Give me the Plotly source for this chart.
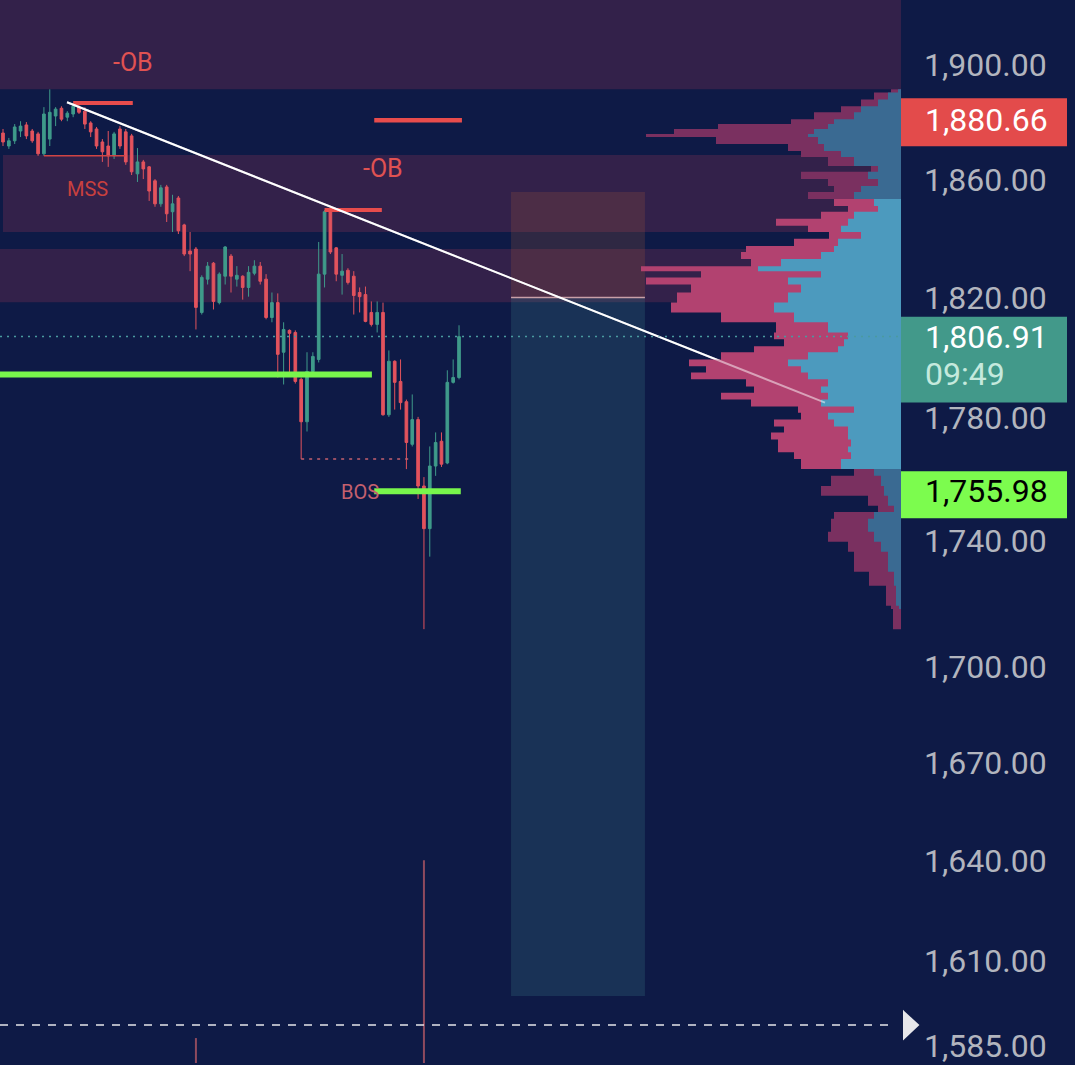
import math
import plotly.graph_objects as go

# ---------------- candles (price values) ----------------
opens = [1876.2, 1871.7, 1873.5, 1876.9, 1879.0, 1876.9, 1875.9, 1869.0, 1874.1, 1882.1,
         1884.8, 1881.7, 1882.8, 1885.2, 1883.8, 1879.7, 1877.6, 1873.1, 1871.7, 1868.3,
         1877.6, 1876.6, 1875.2, 1862.1, 1866.2, 1864.5, 1859.7, 1851.8, 1857.6, 1849.1,
         1853.8, 1844.6, 1835.7, 1836.4, 1815.0, 1826.2, 1831.6, 1818.3, 1827.2, 1834.0,
         1826.2, 1827.2, 1823.4, 1828.2, 1830.6, 1826.2, 1813.3, 1818.3, 1801.7, 1809.0,
         1808.3, 1792.7, 1778.7, 1795.3, 1799.3, 1827.9, 1849.1, 1836.8, 1827.5, 1829.2,
         1827.2, 1821.7, 1821.0, 1815.0, 1811.0, 1815.0, 1781.0, 1798.7, 1792.0, 1785.3,
         1771.3, 1779.4, 1757.7, 1743.9, 1764.2, 1772.3, 1765.2, 1791.7, 1793.3]
highs = [1877.6, 1874.5, 1879.3, 1880.3, 1880.0, 1877.6, 1876.6, 1885.2, 1891.4, 1885.2,
         1885.5, 1883.8, 1886.6, 1885.9, 1885.2, 1880.3, 1878.3, 1874.1, 1876.9, 1876.6,
         1878.6, 1877.6, 1875.9, 1871.0, 1866.9, 1864.8, 1860.3, 1858.3, 1858.3, 1854.9,
         1854.5, 1845.0, 1842.2, 1837.1, 1827.5, 1832.0, 1832.0, 1828.5, 1837.4, 1834.7,
         1830.6, 1827.5, 1830.6, 1832.6, 1832.0, 1827.9, 1821.7, 1821.4, 1811.7, 1809.3,
         1809.0, 1793.3, 1801.7, 1801.7, 1838.8, 1849.7, 1849.7, 1837.1, 1834.7, 1829.9,
         1828.9, 1823.4, 1823.7, 1818.7, 1818.7, 1818.3, 1802.3, 1799.0, 1799.3, 1786.0,
         1787.7, 1780.3, 1760.6, 1770.6, 1775.2, 1775.2, 1795.7, 1799.3, 1810.7]
lows = [1871.7, 1870.7, 1872.4, 1874.8, 1874.1, 1872.8, 1868.3, 1868.3, 1871.7, 1878.6,
        1880.3, 1880.3, 1881.7, 1882.8, 1877.6, 1874.8, 1870.7, 1866.2, 1864.5, 1867.2,
        1870.7, 1865.2, 1861.7, 1859.3, 1860.3, 1852.8, 1850.8, 1850.8, 1845.6, 1842.2,
        1841.5, 1834.0, 1828.9, 1809.3, 1814.3, 1824.4, 1816.0, 1817.7, 1824.4, 1821.7,
        1823.7, 1819.3, 1820.3, 1827.5, 1824.4, 1812.7, 1811.7, 1793.3, 1791.0, 1795.0,
        1791.3, 1766.5, 1775.5, 1795.0, 1798.3, 1823.4, 1834.7, 1825.5, 1821.0, 1824.4,
        1814.3, 1815.0, 1811.7, 1810.3, 1808.3, 1780.7, 1780.3, 1782.7, 1782.7, 1763.2,
        1770.6, 1753.5, 1711.8, 1734.9, 1761.0, 1763.9, 1764.8, 1791.3, 1792.7]
closes = [1873.1, 1873.5, 1878.3, 1878.6, 1875.2, 1873.5, 1869.0, 1882.8, 1883.4, 1884.5,
          1881.0, 1883.1, 1885.5, 1883.4, 1879.3, 1876.6, 1871.7, 1869.7, 1868.3, 1875.9,
          1871.7, 1866.2, 1862.8, 1866.2, 1863.8, 1856.2, 1851.8, 1857.3, 1848.4, 1851.8,
          1842.6, 1834.7, 1834.7, 1816.7, 1826.8, 1830.6, 1818.7, 1827.9, 1837.1, 1827.2,
          1827.5, 1823.4, 1828.5, 1830.6, 1825.5, 1813.3, 1818.3, 1801.0, 1809.3, 1808.0,
          1792.0, 1778.7, 1795.3, 1800.3, 1827.9, 1849.1, 1835.4, 1827.9, 1828.9, 1825.1,
          1820.7, 1820.3, 1812.0, 1811.0, 1815.0, 1781.0, 1798.7, 1791.7, 1785.0, 1771.9,
          1779.4, 1757.7, 1743.9, 1764.2, 1771.9, 1764.8, 1791.7, 1793.3, 1806.9]
candle_x = list(range(len(opens)))

# ---------------- axis ----------------
tick_vals = [1900, 1860, 1820, 1780, 1740, 1700, 1670, 1640, 1610, 1585]
tick_text = ["1,900.00", "1,860.00", "1,820.00", "1,780.00", "1,740.00",
             "1,700.00", "1,670.00", "1,640.00", "1,610.00", "1,585.00"]
y_min, y_max = 1579.9, 1922.9
x_min, x_max = -0.513, 153.6

# ---------------- volume profile ----------------
profile_edges = [1891.4, 1890.3, 1887.9, 1885.5, 1883.4, 1881.0, 1879.3, 1877.6, 1875.9, 1874.8,
                 1872.4, 1870.0, 1867.9, 1864.8, 1862.8, 1860.3, 1857.9, 1855.9, 1853.5, 1851.1,
                 1849.1, 1846.7, 1844.3, 1842.2, 1839.9, 1837.4, 1835.4, 1833.0, 1830.6, 1828.9,
                 1826.8, 1824.4, 1821.7, 1818.3, 1815.0, 1811.7, 1808.3, 1806.0, 1803.7, 1801.7,
                 1799.3, 1797.0, 1795.0, 1792.7, 1790.3, 1788.3, 1786.0, 1783.7, 1781.7, 1779.4,
                 1777.1, 1775.2, 1772.9, 1770.6, 1768.7, 1766.5, 1763.2, 1761.0, 1757.7, 1754.5,
                 1751.3, 1749.3, 1747.1, 1742.9, 1739.7, 1736.5, 1730.1, 1725.6, 1719.2, 1718.2,
                 1711.8]
profile_total = [10, 27, 40, 60, 87, 110, 183, 227, 255, 185,
                 113, 100, 73, 30, 100, 73, 67, 93, 67, 53,
                 80, 125, 93, 72, 107, 155, 160, 150, 260, 200,
                 255, 210, 224, 230, 180, 125, 127, 117, 147, 180,
                 212, 195, 210, 155, 147, 180, 150, 103, 100, 127,
                 117, 130, 123, 123, 107, 100, 47, 70, 80, 33,
                 23, 67, 70, 73, 53, 47, 32, 15, 10, 8]
profile_up = [3, 13, 23, 40, 47, 67, 73, 87, 93, 83,
              77, 60, 47, 23, 33, 23, 40, 47, 27, 23,
              47, 53, 60, 40, 63, 67, 80, 120, 143, 80,
              113, 100, 113, 127, 107, 73, 53, 57, 63, 93,
              113, 100, 93, 73, 80, 73, 80, 47, 73, 67,
              53, 53, 50, 53, 50, 60, 27, 20, 17, 13,
              7, 27, 33, 27, 20, 13, 7, 5, 2, 0]
va_high, va_low = 1853.5, 1763.2

# ---------------- zones / drawings ----------------
zone_top = [1930.0, 1868.6, 1836.4]
zone_bottom = [1891.4, 1842.2, 1818.4]
zone_start = [-0.513, 0.0, -0.513]

pos_x = [86.9, 109.8]
pos_stop, pos_entry, pos_target = 1855.9, 1820.0, 1599.6

trend_x = [10.95, 140.6]
trend_y = [1886.9, 1785.0]
swing_x0 = [12.0, 55.0]
swing_x1 = [22.2, 64.8]
swing_y = [1886.6, 1849.7]
mss_x = [7.0, 20.9]
mss_y = 1868.3
bos_x = [51.0, 70.0]
bos_y = 1766.5
green_x0 = [-0.513, 63.5]
green_x1 = [63.1, 78.3]
green_y = [1794.3, 1755.98]
red_lvl_x = [63.5, 78.5]
red_lvl_y = 1880.66
last_price = 1806.91
dash_level = 1591.0
dash_x = [-0.513, 152.6]
vol_idx = [33, 72]
vol_top = [1587.2, 1640.2]

labels_text = ["-OB", "-OB", "MSS", "BOS"]
labels_x = [22.2, 65.0, 14.4, 61.1]
labels_y = [1900.7, 1864.1, 1856.9, 1755.8]
labels_color = ["#e05252", "#e05252", "#c8403e", "#c4606e"]
labels_size = [25, 25, 20, 20]

BG = "#0e1a46"
ZONE = "#33214a"
GREEN = "#3f9a8a"
RED = "#e2535d"
LIME = "#78f64c"

W, H = 1075, 1065
plot_w = 901
log_lo, log_hi = math.log10(y_min), math.log10(y_max)
# pixels per log10 unit of the price axis (used to size the axis price tags)
px_per_dec = H / (log_hi - log_lo)


def shift_price(price, px):
    return 10 ** (math.log10(price) + px / px_per_dec)


def price_to_paper(price):
    return (math.log10(price) - log_lo) / (log_hi - log_lo)


fig = go.Figure()

# volume bars peeking from the bottom
for i, top in zip(vol_idx, vol_top):
    fig.add_trace(go.Scatter(x=[i, i], y=[y_min * 0.99, top], mode="lines",
                             line=dict(color="#8e4a5e", width=2), hoverinfo="skip"))

fig.add_trace(go.Candlestick(
    x=candle_x, open=opens, high=highs, low=lows, close=closes,
    increasing=dict(line=dict(color=GREEN, width=1), fillcolor=GREEN),
    decreasing=dict(line=dict(color=RED, width=1), fillcolor=RED),
    whiskerwidth=0, hoverinfo="skip"))


def seg(x0, x1, y, color, width, dash=None):
    fig.add_trace(go.Scatter(x=[x0, x1], y=[y, y], mode="lines",
                             line=dict(color=color, width=width, dash=dash),
                             hoverinfo="skip"))


for a, b, y in zip(swing_x0, swing_x1, swing_y):
    seg(a, b, y, "#e84c4c", 4)
seg(mss_x[0], mss_x[1], mss_y, "#d04444", 1.5)
seg(bos_x[0], bos_x[1], bos_y, "#c4606e", 1.5, "3px,5px")
for a, b, y in zip(green_x0, green_x1, green_y):
    seg(a, b, y, LIME, 6)
seg(red_lvl_x[0], red_lvl_x[1], red_lvl_y, "#e84c4c", 4.5)
seg(dash_x[0], dash_x[1], dash_level, "#e6e6ea", 1.5, "8px,8px")

# trend line (solid white under the profile)
fig.add_trace(go.Scatter(x=trend_x, y=trend_y, mode="lines",
                         line=dict(color="#ffffff", width=2), hoverinfo="skip"))


# ---------------- volume profile on an overlaying reversed axis ----------------
def rows_where(cond):
    return [i for i in range(len(profile_total)) if cond(profile_edges[i], profile_edges[i + 1])]


def step_poly(rows, widths):
    xs, ys = [0], [profile_edges[rows[0]]]
    for i in rows:
        xs += [widths[i], widths[i]]
        ys += [profile_edges[i], profile_edges[i + 1]]
    xs.append(0)
    ys.append(profile_edges[rows[-1] + 1])
    return xs, ys


segments = [
    (rows_where(lambda hi, lo: lo >= va_high - 1e-6), "#7a3060", "#3a6a92"),
    (rows_where(lambda hi, lo: lo < va_high - 1e-6 and hi > va_low + 1e-6), "#b24270", "#4c9abe"),
    (rows_where(lambda hi, lo: hi <= va_low + 1e-6), "#7a3060", "#3a6a92"),
]
for rows, pink, blue in segments:
    for widths, col in ((profile_total, pink), (profile_up, blue)):
        xs, ys = step_poly(rows, widths)
        fig.add_trace(go.Scatter(x=xs, y=ys, xaxis="x2", mode="lines", fill="toself",
                                 fillcolor=col, line=dict(width=0, color=col),
                                 hoverinfo="skip"))

# ---------------- shapes ----------------
shapes = []
for top, bot, start in zip(zone_top, zone_bottom, zone_start):
    shapes.append(dict(type="rect", xref="x", yref="y", x0=start, x1=x_max, y0=bot, y1=top,
                       fillcolor=ZONE, line=dict(width=0), layer="below"))
shapes.append(dict(type="rect", xref="x", yref="y", x0=pos_x[0], x1=pos_x[1],
                   y0=pos_entry, y1=pos_stop, fillcolor="rgba(170,90,60,0.22)",
                   line=dict(width=0), layer="below"))
shapes.append(dict(type="rect", xref="x", yref="y", x0=pos_x[0], x1=pos_x[1],
                   y0=pos_target, y1=pos_entry, fillcolor="rgba(70,150,150,0.2)",
                   line=dict(width=0), layer="below"))
shapes.append(dict(type="line", xref="x", yref="y", x0=pos_x[0], x1=pos_x[1],
                   y0=pos_entry, y1=pos_entry, line=dict(color="#c8a0a8", width=1.5),
                   layer="below"))
shapes.append(dict(type="line", xref="paper", yref="y", x0=0, x1=1,
                   y0=last_price, y1=last_price,
                   line=dict(color="#4a9aa0", width=1.5, dash="2px,5px"), layer="above"))
shapes.append(dict(type="line", xref="x", yref="y", x0=trend_x[0], x1=trend_x[1],
                   y0=trend_y[0], y1=trend_y[1],
                   line=dict(color="rgba(255,255,255,0.5)", width=2), layer="above"))

# triangle marker on the axis at the dashed level
ty = price_to_paper(dash_level)
tx0, tx1 = 1 + 3 / plot_w, 1 + 17 / plot_w
th = 13 / H
shapes.append(dict(type="path", xref="paper", yref="paper",
                   path=f"M {tx0},{ty + th} L {tx1},{ty} L {tx0},{ty - th} Z",
                   fillcolor="#e6e6ea", line=dict(color="#e6e6ea", width=2), layer="above"))

# price tags on the axis (pixel extents below/above the price)
tags = [
    (1880.66, "1,880.66", None, "#e34b4b", "#ffffff", -26, 22),
    (1806.91, "1,806.91", "09:49", "#42998a", "#ffffff", -66, 20),
    (1755.98, "1,755.98", None, "#7cfc4e", "#000000", -27, 20),
]
annotations = []
for price, txt, sub, bg, fg, p0, p1 in tags:
    shapes.append(dict(type="rect", xref="paper", yref="y", x0=1.0, x1=1067 / plot_w,
                       y0=shift_price(price, p0), y1=shift_price(price, p1),
                       fillcolor=bg, line=dict(width=0), layer="above"))
    annotations.append(dict(xref="paper", yref="y", x=923 / plot_w, y=math.log10(price),
                            xanchor="left", yanchor="middle", text=txt, showarrow=False,
                            font=dict(family="Roboto", size=32, color=fg)))
    if sub:
        annotations.append(dict(xref="paper", yref="y", x=923 / plot_w, y=math.log10(price),
                                xanchor="left", yanchor="middle", text=sub, showarrow=False,
                                yshift=-37,
                                font=dict(family="Roboto", size=32, color="#c5e9dd")))

for t, x, y, c, s in zip(labels_text, labels_x, labels_y, labels_color, labels_size):
    annotations.append(dict(xref="x", yref="y", x=x, y=math.log10(y), text=t,
                            showarrow=False, xanchor="center", yanchor="middle",
                            font=dict(family="Roboto", size=s, color=c)))

fig.update_layout(
    width=W, height=H,
    margin=dict(l=0, r=W - plot_w, t=0, b=0),
    paper_bgcolor=BG, plot_bgcolor=BG,
    showlegend=False,
    boxgap=0.35,
    shapes=shapes,
    annotations=annotations,
    xaxis=dict(range=[x_min, x_max], visible=False, rangeslider=dict(visible=False),
               showgrid=False, zeroline=False),
    xaxis2=dict(range=[plot_w, 0], overlaying="x", visible=False, showgrid=False,
                zeroline=False),
    yaxis=dict(type="log", range=[log_lo, log_hi], side="right",
               tickvals=tick_vals, ticktext=tick_text, showgrid=False, zeroline=False,
               ticks="", showline=False, ticklabelstandoff=22, ticklabeloverflow="allow",
               tickfont=dict(family="Roboto", size=32, color="#b2b5be")),
)

fig.write_html("out.html", config={"displayModeBar": False},
               post_script="document.body.style.margin='0';document.body.style.padding='0';"
                           "document.body.style.overflow='hidden';"
                           "document.body.style.background='" + BG + "';")
